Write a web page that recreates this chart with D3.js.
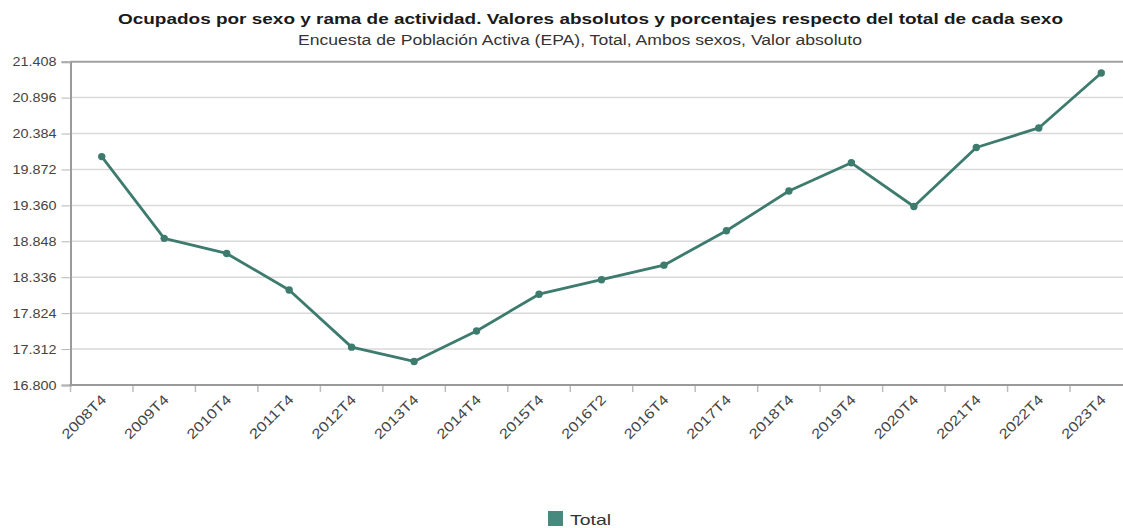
<!DOCTYPE html>
<html>
<head>
<meta charset="utf-8">
<script src="https://cdn.jsdelivr.net/npm/d3@7"></script>
<style>
  html, body { margin: 0; padding: 0; background: #fff; }
  svg { display: block; font-family: "Liberation Sans", Arial, sans-serif; }
</style>
</head>
<body>
<svg id="chart" width="1123" height="528"></svg>
<script>
// Periods (quarters) shown on the category axis
const categories = ["2008T4", "2009T4", "2010T4", "2011T4", "2012T4", "2013T4", "2014T4",
  "2015T4", "2016T2", "2016T4", "2017T4", "2018T4", "2019T4", "2020T4", "2021T4",
  "2022T4", "2023T4"];

// Employed persons, both sexes, thousands
const totalValues = [20055.3, 18890.4, 18674.9, 18153.0, 17339.4, 17135.2, 17569.1,
  18094.2, 18301.0, 18508.1, 18998.4, 19564.6, 19966.9, 19344.3, 20184.9,
  20463.9, 21246.9];

// Y-axis tick values (thousands)
const yTicks = [16800, 17312, 17824, 18336, 18848, 19360, 19872, 20384, 20896, 21408];

const seriesName = "Total";
const titleText = "Ocupados por sexo y rama de actividad. Valores absolutos y porcentajes respecto del total de cada sexo";
const subtitleText = "Encuesta de Población Activa (EPA), Total, Ambos sexos, Valor absoluto";

const svg = d3.select("#chart");
const W = 1123;
const plot = { left: 70.5, right: 1132.5, top: 61.7, bottom: 385 };
const lineColor = "#3e7b6f";
const legendColor = "#478a7d";
const fontFam = "Liberation Sans, Arial, sans-serif";

const es = d3.formatLocale({ decimal: ",", thousands: ".", grouping: [3], currency: ["", " €"] });
const fmt = es.format(",d");

const x = d3.scaleBand().domain(categories).range([plot.left, plot.right]).padding(0);
const y = d3.scaleLinear().domain([yTicks[0], yTicks[yTicks.length - 1]]).range([plot.bottom, plot.top]);

// Titles (wide lettering)
svg.append("text")
  .attr("x", 118).attr("y", 24)
  .attr("font-size", 15).attr("font-weight", "bold").attr("fill", "#1a1a1a")
  .attr("textLength", 945).attr("lengthAdjust", "spacingAndGlyphs")
  .text(titleText);
svg.append("text")
  .attr("x", 298).attr("y", 45)
  .attr("font-size", 14).attr("fill", "#333")
  .attr("textLength", 564).attr("lengthAdjust", "spacingAndGlyphs")
  .text(subtitleText);

// Horizontal grid
svg.append("g").selectAll("line")
  .data(yTicks.slice(1, -1))
  .join("line")
  .attr("x1", plot.left).attr("x2", W)
  .attr("y1", d => y(d)).attr("y2", d => y(d))
  .attr("stroke", "#d9d9d9").attr("stroke-width", 1.5);

// Top border of the plot
svg.append("line")
  .attr("x1", plot.left).attr("x2", W)
  .attr("y1", y(yTicks[yTicks.length - 1])).attr("y2", y(yTicks[yTicks.length - 1]))
  .attr("stroke", "#a0a0a0").attr("stroke-width", 2);

// Y axis
const yAxis = svg.append("g")
  .attr("transform", `translate(${plot.left},0)`)
  .call(d3.axisLeft(y).tickValues(yTicks).tickSize(9).tickFormat(fmt));
yAxis.select(".domain").attr("stroke", "#9a9a9a").attr("stroke-width", 2);
yAxis.selectAll(".tick line").attr("stroke", "#b5b5b5");
yAxis.selectAll(".tick text")
  .attr("font-size", 13).attr("fill", "#444")
  .attr("font-family", fontFam)
  .attr("x", -14)
  .attr("textLength", 44).attr("lengthAdjust", "spacingAndGlyphs");

// X axis (category labels at band centres)
const xAxis = svg.append("g")
  .attr("transform", `translate(0,${plot.bottom})`)
  .call(d3.axisBottom(x).tickSize(0).tickSizeOuter(0));
xAxis.select(".domain").remove();
xAxis.selectAll(".tick text")
  .attr("font-size", 14).attr("fill", "#444")
  .attr("font-family", fontFam)
  .attr("text-anchor", "end")
  .attr("x", 0).attr("y", 0).attr("dy", "0.35em")
  .attr("textLength", 56).attr("lengthAdjust", "spacingAndGlyphs")
  .attr("transform", "translate(2,12) rotate(-45)");

// Tick marks between categories
svg.append("g").selectAll("line")
  .data(categories)
  .join("line")
  .attr("x1", d => x(d)).attr("x2", d => x(d))
  .attr("y1", plot.bottom).attr("y2", plot.bottom + 7)
  .attr("stroke", "#bdbdbd").attr("stroke-width", 1.5);

// X axis baseline
svg.append("line")
  .attr("x1", plot.left - 1).attr("x2", W)
  .attr("y1", plot.bottom).attr("y2", plot.bottom)
  .attr("stroke", "#9a9a9a").attr("stroke-width", 2);

// Series line and markers
const data = categories.map((c, i) => ({ c, v: totalValues[i] }));
const cx = d => x(d.c) + x.bandwidth() / 2;

svg.append("path")
  .datum(data)
  .attr("fill", "none")
  .attr("stroke", lineColor)
  .attr("stroke-width", 2.8)
  .attr("stroke-linejoin", "round")
  .attr("d", d3.line().x(cx).y(d => y(d.v)));

svg.append("g").selectAll("circle")
  .data(data)
  .join("circle")
  .attr("cx", cx).attr("cy", d => y(d.v))
  .attr("r", 3.7)
  .attr("fill", lineColor);

// Legend
const legend = svg.append("g").attr("transform", "translate(548,511)");
legend.append("rect").attr("width", 15).attr("height", 15).attr("fill", legendColor);
legend.append("text").attr("x", 22).attr("y", 13.5)
  .attr("font-size", 15).attr("fill", "#333")
  .attr("textLength", 41).attr("lengthAdjust", "spacingAndGlyphs")
  .text(seriesName);
</script>
</body>
</html>
